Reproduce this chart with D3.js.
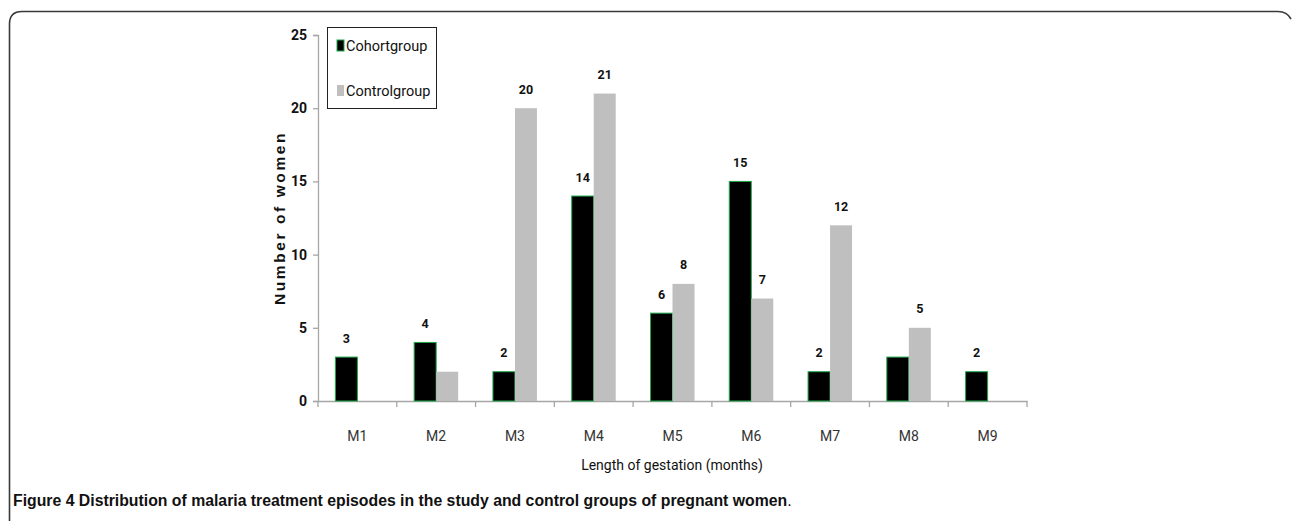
<!DOCTYPE html>
<html><head><meta charset="utf-8">
<script src="https://cdn.jsdelivr.net/npm/d3@7"></script>
<style>body{margin:0;background:#fff;} svg{display:block;}</style>
</head><body>
<svg id="chart" width="1292" height="521"></svg>
<script>
const categories = ["M1","M2","M3","M4","M5","M6","M7","M8","M9"];
const seriesNames = ["Cohortgroup","Controlgroup"];
const cohortValues = [3,4,2,14,6,15,2,3,2];
const controlValues = [0,2,20,21,8,7,12,5,0];
const cohortLabels = [3,4,2,14,6,15,2,null,2];
const controlLabels = [null,null,20,21,8,7,12,5,null];
const yTicks = [0,5,10,15,20,25];
const xTitle = "Length of gestation (months)";
const yTitle = "Number of women";
const captionBold = "Figure 4 Distribution of malaria treatment episodes in the study and control groups of pregnant women";

const svg = d3.select("#chart");
const narrow = "Roboto,'Liberation Sans',sans-serif";

// frame
svg.append("path")
  .attr("d", "M9.5,521 L9.5,24 Q9.5,11.5 22,11.5 L1278,11.5 Q1287,11.5 1291,19")
  .attr("fill","none").attr("stroke","#3a3a3a").attr("stroke-width",1.6);

const x0 = d3.scaleBand().domain(categories).range([318,1027]).paddingInner(0).paddingOuter(0);
const x1 = d3.scaleBand().domain(seriesNames).range([0, x0.bandwidth()]).paddingInner(0).paddingOuter(0.79);
const y = d3.scaleLinear().domain([0,25]).range([401,35]);

// y axis
const yAxis = svg.append("g").attr("transform","translate(318,0)")
  .call(d3.axisLeft(y).tickValues(yTicks).tickSize(5).tickPadding(6));
yAxis.select(".domain").attr("stroke","#a6a6a6").attr("stroke-width",1.3);
yAxis.selectAll(".tick line").attr("stroke","#a6a6a6").attr("stroke-width",1.3);
yAxis.selectAll("text").attr("font-family",narrow).attr("font-weight","bold")
  .attr("font-size",14).attr("fill","#111");

// x axis
const xAxis = svg.append("g").attr("transform","translate(0,401)")
  .call(d3.axisBottom(x0).tickSize(0).tickPadding(30));
xAxis.select(".domain").attr("stroke","#a6a6a6").attr("stroke-width",1.3);
xAxis.selectAll("text").attr("font-family",narrow).attr("font-size",14).attr("fill","#333");
const bounds = categories.map(c => x0(c)).concat([x0(categories[categories.length-1]) + x0.bandwidth()]);
svg.append("g").selectAll("line").data(bounds).join("line")
  .attr("x1",d=>d).attr("x2",d=>d).attr("y1",401).attr("y2",407)
  .attr("stroke","#a6a6a6").attr("stroke-width",1.3);

// bars
const groups = [
  {name:seriesNames[0], vals:cohortValues, labels:cohortLabels, fill:"#000", stroke:"#1fa84a"},
  {name:seriesNames[1], vals:controlValues, labels:controlLabels, fill:"#bfbfbf", stroke:"none"}
];
groups.forEach(g => {
  svg.append("g").selectAll("rect").data(categories.map((c,i)=>({c, v:g.vals[i]})).filter(d=>d.v>0))
    .join("rect")
    .attr("x", d => x0(d.c) + x1(g.name))
    .attr("y", d => y(d.v))
    .attr("width", x1.bandwidth())
    .attr("height", d => y(0) - y(d.v))
    .attr("fill", g.fill).attr("stroke", g.stroke).attr("stroke-width", 1);
  svg.append("g").selectAll("text").data(categories.map((c,i)=>({c, l:g.labels[i], v:g.vals[i]})).filter(d=>d.l!=null))
    .join("text")
    .attr("x", d => x0(d.c) + x1(g.name) + x1.bandwidth()/2)
    .attr("y", d => y(d.v) - 14.5)
    .attr("text-anchor","middle")
    .attr("font-family",narrow).attr("font-weight","bold").attr("font-size",12.5).attr("fill","#111")
    .text(d => d.l);
});

// axis titles
svg.append("text").attr("x",672).attr("y",470).attr("text-anchor","middle")
  .attr("font-family",narrow).attr("font-size",14).attr("fill","#111").text(xTitle);
svg.append("text").attr("transform","translate(285,218) rotate(-90)").attr("text-anchor","middle")
  .attr("font-family","'Liberation Sans',Arial,sans-serif").attr("font-weight","bold").attr("font-size",15.5)
  .attr("letter-spacing",2.6).attr("fill","#111").text(yTitle);

// legend
svg.append("rect").attr("x",327.5).attr("y",27.5).attr("width",109).attr("height",81)
  .attr("fill","#fff").attr("stroke","#222").attr("stroke-width",1);
const leg = svg.append("g");
groups.forEach((g,i) => {
  const ly = 46 + i*45;
  leg.append("rect").attr("x",337).attr("y",ly-6).attr("width",7).attr("height",11)
    .attr("fill",g.fill).attr("stroke",g.stroke==="none"?"none":g.stroke).attr("stroke-width",1);
  leg.append("text").attr("x",346).attr("y",ly+5)
    .attr("font-family",narrow).attr("font-size",14.5).attr("fill","#111").text(g.name);
});

// caption
const cap = svg.append("text").attr("x",13).attr("y",506)
  .attr("font-family","'Liberation Sans',Arial,sans-serif").attr("font-size",15.8).attr("fill","#111");
cap.append("tspan").attr("font-weight","bold").text(captionBold);
cap.append("tspan").text(".");
</script>
</body></html>
